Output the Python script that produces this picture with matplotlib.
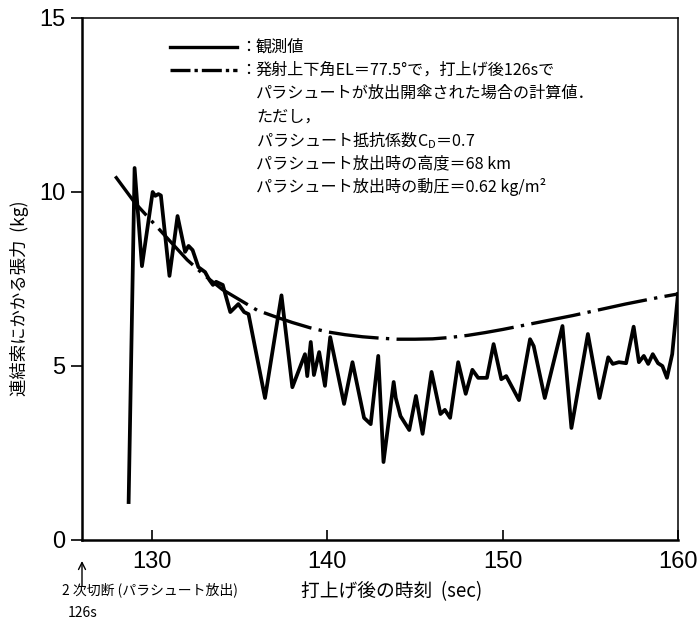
import matplotlib
matplotlib.use("Agg")
import matplotlib.pyplot as plt
from matplotlib.lines import Line2D
from matplotlib.patches import FancyArrowPatch
from matplotlib.transforms import blended_transform_factory

plt.rcParams['font.family'] = ['Noto Sans CJK JP', 'DejaVu Sans']
plt.rcParams['mathtext.fontset'] = 'custom'
plt.rcParams['mathtext.rm'] = 'Noto Sans CJK JP'

# observed tension (kg) vs time after launch (s)
obs_t = [128.66, 129.0, 129.42, 130.03, 130.18, 130.36, 130.5, 130.99, 131.45, 131.88,
         132.08, 132.31, 132.64, 133.02, 133.27, 133.47, 133.65, 134.03, 134.46, 134.92,
         135.25, 135.5, 136.44, 137.38, 138.0, 138.72, 138.85, 139.05, 139.23, 139.53,
         139.86, 140.16, 140.95, 141.43, 142.09, 142.47, 142.9, 143.2, 143.78, 143.9,
         144.17, 144.67, 145.05, 145.43, 145.94, 146.45, 146.7, 147.0, 147.46, 147.89,
         148.27, 148.6, 149.1, 149.48, 149.92, 150.2, 150.93, 151.56, 151.77, 152.4,
         153.41, 153.92, 154.86, 155.52, 156.02, 156.28, 156.63, 157.04, 157.47, 157.77,
         158.05, 158.3, 158.56, 158.86, 159.11, 159.37, 159.67, 160.0]
obs_kg = [1.09, 10.69, 7.87, 10.0, 9.89, 9.94, 9.9, 7.59, 9.31, 8.28,
          8.45, 8.33, 7.84, 7.70, 7.47, 7.33, 7.42, 7.33, 6.55, 6.78,
          6.55, 6.49, 4.08, 7.03, 4.39, 5.34, 4.71, 5.69, 4.74, 5.40,
          4.43, 5.83, 3.91, 5.11, 3.51, 3.33, 5.29, 2.24, 4.54, 4.08,
          3.56, 3.16, 4.14, 3.05, 4.83, 3.62, 3.74, 3.51, 5.11, 4.20,
          4.89, 4.66, 4.66, 5.63, 4.62, 4.71, 4.02, 5.77, 5.57, 4.08,
          6.15, 3.22, 5.92, 4.08, 5.25, 5.06, 5.11, 5.08, 6.13, 5.11,
          5.29, 5.06, 5.34, 5.08, 5.00, 4.66, 5.34, 7.07]

# calculated tension (EL=77.5 deg, parachute at 126 s)
calc_t = [127.9, 129, 130, 131, 132, 133, 134, 135, 136, 137, 138, 139, 140, 141, 142,
          143, 144, 145, 146, 147, 148, 149, 150, 151, 152, 153, 154, 155, 156, 157,
          158, 159, 160]
calc_kg = [10.45, 9.7, 9.15, 8.6, 8.05, 7.6, 7.2, 6.9, 6.6, 6.42, 6.25, 6.1, 5.98, 5.9,
           5.84, 5.8, 5.77, 5.77, 5.78, 5.82, 5.88, 5.96, 6.05, 6.15, 6.25, 6.35, 6.45,
           6.56, 6.67, 6.78, 6.88, 6.98, 7.07]

xticks = [130, 140, 150, 160]
yticks = [0, 5, 10, 15]
release_t = 126

legend_obs = "観測値"
legend_calc = ["発射上下角EL＝77.5°で，打上げ後126sで",
               "パラシュートが放出開傘された場合の計算値．",
               "ただし，",
               "パラシュート抵抗係数$\\mathrm{C_D}$＝0.7",
               "パラシュート放出時の高度＝68 km",
               "パラシュート放出時の動圧＝0.62 kg/m²"]

W, H = 697, 626
fig = plt.figure(figsize=(W / 100, H / 100), dpi=100)

def fx(px):
    return px / W

def fy(py):
    return 1 - py / H

L, R, T, B = 82, 678, 18, 540
ax = fig.add_axes([fx(L), fy(B), fx(R) - fx(L), fy(T) - fy(B)])

ax.plot(obs_t, obs_kg, color='black', lw=2.7, solid_joinstyle='round')
ax.plot(calc_t, calc_kg, color='black', lw=2.4, linestyle=(0, (15, 2.2, 1.0, 2.2)))

ax.set_xlim(126, 160)
ax.set_ylim(0, 15)
ax.set_xticks(xticks)
ax.set_yticks(yticks)
ax.tick_params(axis='x', direction='in', length=7, width=1.2, pad=8,
               labelsize=17, labelfontfamily='Liberation Sans')
ax.tick_params(axis='y', direction='out', length=8, width=1.2, pad=4,
               labelsize=17, labelfontfamily='Liberation Sans')
for s in ['left', 'bottom']:
    ax.spines[s].set_linewidth(1.8)
for s in ['top', 'right']:
    ax.spines[s].set_linewidth(1.1)

# legend (manual layout as in original)
fs = 11.6
for py, ls in [(47, '-'), (70, (0, (6, 1.2, 1, 1.2)))]:
    fig.add_artist(Line2D([fx(170), fx(237)], [fy(py), fy(py)], color='black',
                          lw=2.4, linestyle=ls))
    fig.text(fx(240), fy(py), "：", fontsize=fs, va='center', ha='left')
fig.text(fx(256), fy(47), legend_obs, fontsize=fs, va='center', ha='left')
for i, line in enumerate(legend_calc):
    fig.text(fx(256), fy(70 + i * 23.4), line, fontsize=fs, va='center', ha='left')

# axis labels
fig.text(fx(20), fy(298), "連結索にかかる張力  (kg)", rotation=90, fontsize=12.5,
         va='center', ha='center')
fig.text(fx(392), fy(592), "打上げ後の時刻  (sec)", fontsize=13.5, va='center', ha='center')

# arrow marking parachute release at 126 s
trans = blended_transform_factory(ax.transData, fig.transFigure)
arrow = FancyArrowPatch((release_t, fy(586)), (release_t, fy(561)), transform=trans,
                        arrowstyle='->,head_length=5,head_width=2.5', lw=1.0,
                        color='black', shrinkA=0, shrinkB=0, clip_on=False)
fig.add_artist(arrow)
fig.text(fx(150), fy(590), "2 次切断 (パラシュート放出)", fontsize=10,
         va='center', ha='center')
fig.text(fx(83), fy(613), "126s", fontsize=10, va='center', ha='center')

fig.savefig("out.png", dpi=100)
